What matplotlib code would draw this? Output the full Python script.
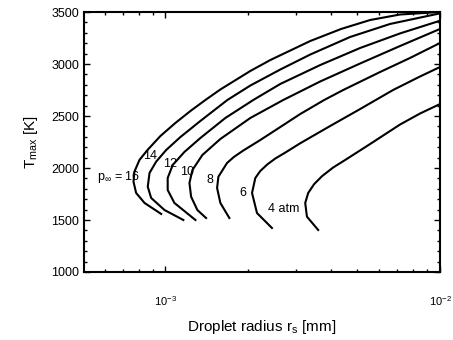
import matplotlib
matplotlib.use('Agg')
import matplotlib.pyplot as plt
from matplotlib.ticker import MultipleLocator, LogLocator, NullFormatter

plt.rcParams['font.family'] = ['Liberation Sans', 'DejaVu Sans']
plt.rcParams['mathtext.fontset'] = 'custom'
plt.rcParams['mathtext.rm'] = 'Liberation Sans'
plt.rcParams['mathtext.it'] = 'Liberation Sans:italic'

# droplet radius [mm] and T_max [K], lower end -> nose -> upper end
r_16 = [9.65e-4, 8.39e-4, 7.82e-4, 7.65e-4, 7.71e-4, 8.04e-4, 8.60e-4, 9.59e-4, 1.087e-3, 1.233e-3,
        1.398e-3, 1.585e-3, 2.038e-3, 2.409e-3, 3.368e-3, 4.365e-3, 5.567e-3, 7.152e-3, 1e-2]
T_16 = [1558, 1664, 1760, 1868, 1965, 2077, 2173, 2308, 2433, 2548,
        2654, 2755, 2933, 3038, 3221, 3337, 3423, 3476, 3500]

r_14 = [1.162e-3, 9.92e-4, 8.87e-4, 8.62e-4, 8.75e-4, 9.25e-4, 1.006e-3, 1.134e-3, 1.340e-3, 1.681e-3,
        2.038e-3, 2.620e-3, 3.368e-3, 4.708e-3, 6.579e-3, 1e-2]
T_14 = [1500, 1596, 1712, 1820, 1952, 2061, 2173, 2298, 2452, 2654,
        2793, 2947, 3091, 3260, 3385, 3487]

r_12 = [1.286e-3, 1.078e-3, 1.019e-3, 1.019e-3, 1.063e-3, 1.172e-3, 1.340e-3, 1.653e-3, 2.089e-3,
        2.620e-3, 3.662e-3, 5.118e-3, 7.152e-3, 1e-2]
T_12 = [1500, 1664, 1788, 1904, 2029, 2154, 2288, 2481, 2654,
        2808, 2990, 3154, 3294, 3416]

r_10 = [1.406e-3, 1.307e-3, 1.240e-3, 1.223e-3, 1.254e-3, 1.363e-3, 1.585e-3, 2.038e-3, 2.686e-3,
        3.662e-3, 5.118e-3, 7.152e-3, 1e-2]
T_10 = [1519, 1596, 1724, 1856, 1981, 2125, 2279, 2481, 2654,
        2832, 3005, 3173, 3337]

r_8 = [1.709e-3, 1.585e-3, 1.542e-3, 1.559e-3, 1.676e-3, 1.775e-3, 1.921e-3, 2.215e-3, 2.620e-3,
       3.097e-3, 3.787e-3, 4.441e-3, 6.050e-3, 7.777e-3, 1e-2]
T_8 = [1519, 1664, 1808, 1916, 2048, 2106, 2168, 2269, 2394,
       2519, 2654, 2750, 2923, 3058, 3202]

r_6 = [2.443e-3, 2.155e-3, 2.067e-3, 2.125e-3, 2.215e-3, 2.349e-3, 2.512e-3, 2.754e-3, 3.097e-3,
       3.981e-3, 5.118e-3, 6.746e-3, 8.459e-3, 1e-2]
T_6 = [1423, 1567, 1760, 1904, 1971, 2034, 2091, 2154, 2238,
       2404, 2567, 2750, 2880, 2971]

r_4 = [3.600e-3, 3.276e-3, 3.229e-3, 3.311e-3, 3.482e-3, 3.723e-3, 4.083e-3, 4.514e-3, 4.979e-3,
       5.567e-3, 7.152e-3, 8.459e-3, 1e-2]
T_4 = [1404, 1532, 1664, 1760, 1846, 1923, 2005, 2077, 2149,
       2231, 2418, 2524, 2615]

curves = [(r_16, T_16), (r_14, T_14), (r_12, T_12), (r_10, T_10), (r_8, T_8), (r_6, T_6), (r_4, T_4)]

labels = [r'p$_{\infty}$ = 16', '14', '12', '10', '8', '6', '4 atm']
label_r = [6.75e-4, 8.82e-4, 1.043e-3, 1.202e-3, 1.458e-3, 1.921e-3, 2.686e-3]
label_T = [1913, 2115, 2038, 1962, 1885, 1760, 1606]

fig = plt.figure(figsize=(4.53, 3.4), dpi=100)
ax = fig.add_axes([0.1854, 0.2, 0.7859, 0.7647])

for r, T in curves:
    ax.plot(r, T, color='black', lw=1.5, solid_joinstyle='round')

for s, x, y in zip(labels, label_r, label_T):
    ax.text(x, y, s, ha='center', va='center', fontsize=9)

ax.set_xscale('log')
ax.set_xlim(5.05e-4, 1e-2)
ax.set_ylim(1000, 3500)
ax.yaxis.set_major_locator(MultipleLocator(500))
ax.yaxis.set_minor_locator(MultipleLocator(100))
ax.xaxis.set_minor_locator(LogLocator(base=10, subs=range(2, 10)))
ax.xaxis.set_minor_formatter(NullFormatter())

ax.tick_params(which='both', direction='in', top=True, right=True, width=1)
ax.tick_params(which='major', length=4)
ax.tick_params(which='minor', length=2)
ax.tick_params(axis='y', labelsize=9)
ax.tick_params(axis='x', labelsize=8, pad=16)
for sp in ax.spines.values():
    sp.set_linewidth(1.5)

ax.set_xlabel(r'Droplet radius r$_{\rm s}$ [mm]', fontsize=11, labelpad=7)
ax.set_ylabel(r'T$_{\rm max}$ [K]', fontsize=11, labelpad=8)

fig.savefig('out.png', dpi=100)
